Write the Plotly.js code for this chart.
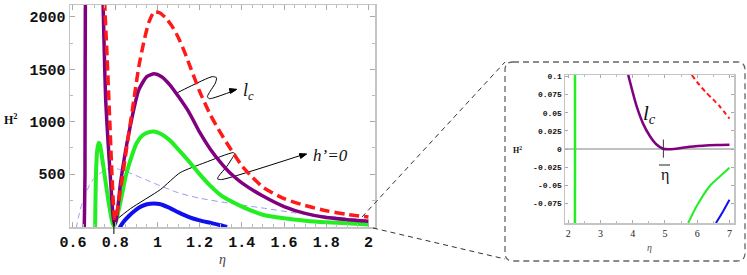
<!DOCTYPE html>
<html><head><meta charset="utf-8">
<script src="https://cdn.plot.ly/plotly-3.0.1.min.js"></script>
<style>html,body{margin:0;padding:0;background:#fff}</style>
</head><body><div id="chart" style="width:747px;height:275px"></div>
<script>
// ---------- main panel data (eta, H^2) ----------
const redEta   = [0.748,0.752,0.76,0.767,0.775,0.783,0.79,0.798,0.805,0.815,0.826,0.845,0.865,0.89,0.912,0.94,0.96,0.985,1.01,1.04,1.07,1.1,1.13,1.16,1.2,1.25,1.3,1.35,1.4,1.45,1.5,1.6,1.7,1.8,1.9,2.0];
const redH2    = [2300,2050,1700,1370,980,580,280,60,90,220,360,620,894,1230,1526,1800,1950,2050,2040,1990,1910,1800,1660,1500,1290,1070,890,730,580,470,375,265,200,150,115,90];
const purpleEta= [0.645,0.652,0.657,0.659,0.70,0.741,0.748,0.755,0.765,0.779,0.79,0.796,0.805,0.826,0.865,0.912,0.95,0.985,1.02,1.06,1.1,1.15,1.2,1.25,1.3,1.35,1.4,1.5,1.6,1.7,1.8,1.9,2.0];
const purpleH2 = [-800,-200,500,2300,8000,2300,1700,1209,850,417,100,20,60,424,892,1304,1430,1457,1430,1350,1240,1090,900,740,610,500,416,290,190,125,85,65,50];
const greenEta = [0.703,0.705,0.707,0.71,0.715,0.722,0.728,0.735,0.745,0.755,0.77,0.785,0.793,0.80,0.81,0.83,0.85,0.875,0.90,0.93,0.96,0.985,1.02,1.06,1.1,1.15,1.2,1.25,1.3,1.35,1.4,1.5,1.6,1.7,1.8,1.9,2.0];
const greenH2  = [-100,0,300,550,730,800,780,700,560,420,220,50,5,25,100,280,480,650,790,870,900,907,880,820,733,620,500,390,300,240,190,112,78,55,40,30,19];
const blueEta  = [0.815,0.825,0.84,0.865,0.89,0.912,0.94,0.965,0.985,1.01,1.05,1.1,1.15,1.2,1.25,1.3,1.33];
const blueH2   = [-50,0,45,100,145,178,205,216,219,215,185,135,90,58,35,12,-5];
const lavEta   = [0.615,0.625,0.64,0.655,0.68,0.70,0.73,0.76,0.787,0.82,0.87,0.943,1.0,1.1,1.2,1.34,1.5,1.65,1.8,2.0];
const lavH2    = [-20,80,200,290,400,460,510,545,559,545,510,448,400,321,270,222,176,130,100,60];
// annotation pointers (eta, H^2)
const lcPtrEta = [1.094,1.26,1.28,1.275,1.25,1.237,1.245,1.262,1.37];
const lcPtrH2  = [1276,1430,1420,1370,1290,1240,1220,1225,1300];
const hpPtrEta = [0.7835,0.873,1.014,1.108,1.226,1.358,1.367,1.356,1.329,1.29,1.285,1.304,1.70];
const hpPtrH2  = [29,171,352,514,610,705,695,657,574,479,454,448,692];
const xTickVals = [0.6,0.8,1,1.2,1.4,1.6,1.8,2];
const xTickText = ['0.6','0.8','1','1.2','1.4','1.6','1.8','2'];
const yTickVals = [500,1000,1500,2000];
const yTickText = ['500','1000','1500','2000'];

// ---------- inset data ----------
const inGreenVEta = [2.208,2.212];
const inGreenVH2  = [-0.2,0.2];
const inPurpleEta = [3.86,4.0,4.12,4.32,4.53,4.73,4.94,5.1,5.35,5.66,6.17,6.6,7.0];
const inPurpleH2  = [0.102,0.078,0.059,0.035,0.018,0.0065,0.0003,-0.0005,0.0005,0.0025,0.0045,0.0055,0.006];
const inRedEta    = [5.83,6.0,6.29,6.5,6.7,7.0];
const inRedH2     = [0.102,0.092,0.077,0.068,0.0586,0.042];
const inGreenEta  = [5.72,5.98,6.39,6.7,7.0];
const inGreenH2   = [-0.102,-0.079,-0.051,-0.038,-0.026];
const inBlueEta   = [6.58,6.8,7.0];
const inBlueH2    = [-0.102,-0.086,-0.070];
const inXTickVals = [2,3,4,5,6,7];
const inYTickVals = [0.1,0.075,0.05,0.025,0,-0.025,-0.05,-0.075];
const inYTickText = ['0.1','0.075','0.05','0.025','0','-0.025','-0.05','-0.075'];
const etaBar = 4.95;

// ---------- layout helpers ----------
const W = 747, H = 275;
const px = x => x / W, py = y => 1 - y / H;
const P = (x, y) => `${px(x)},${py(y)}`;

const RED='#ff1a1a', PURPLE='#800080', GREEN='#22ee22', BLUE='#1010ee', LAV='#9a9aee';

function tr(x, y, color, width, dash, xa, ya, shape) {
  return {x, y, type:'scatter', mode:'lines', hoverinfo:'skip',
    line:{color, width, dash: dash || 'solid', shape: shape || 'spline', smoothing: 0.6},
    xaxis: xa || 'x', yaxis: ya || 'y'};
}

const traces = [
  tr(lavEta, lavH2, LAV, 1, '6px,4px'),
  tr(lcPtrEta, lcPtrH2, '#000', 1, 'solid', 'x', 'y', 'spline'),
  tr(hpPtrEta, hpPtrH2, '#000', 1, 'solid', 'x', 'y', 'spline'),
  tr(blueEta, blueH2, BLUE, 4),
  tr(greenEta, greenH2, GREEN, 4),
  tr(purpleEta, purpleH2, PURPLE, 3.5),
  tr(redEta, redH2, RED, 3.5, '10px,5px'),
  tr(inGreenVEta, inGreenVH2, GREEN, 2.5, 'solid', 'x2', 'y2', 'linear'),
  tr(inPurpleEta, inPurpleH2, PURPLE, 2.5, 'solid', 'x2', 'y2'),
  tr(inRedEta, inRedH2, RED, 2, '5px,3px', 'x2', 'y2'),
  tr(inGreenEta, inGreenH2, GREEN, 2, 'solid', 'x2', 'y2'),
  tr(inBlueEta, inBlueH2, BLUE, 2, 'solid', 'x2', 'y2'),
];

const monoBold = {family:'Liberation Mono', size:15, color:'#111', weight:'bold'};
const serifIt = (s, c) => ({family:'Liberation Serif', size:s, color:c || '#111', style:'italic'});

const frame = {showline:true, linecolor:'#c4c4c4', linewidth:1.5, mirror:'ticks',
  ticks:'inside', ticklen:5, tickcolor:'#aaa', tickwidth:1, showgrid:false, zeroline:false,
  fixedrange:true};

// rounded dashed box of the inset
const bx0=505, bx1=745, by0=62, by1=261, r=8;
const boxPath = `M ${P(bx0+r,by0)} L ${P(bx1-r,by0)} Q ${P(bx1,by0)} ${P(bx1,by0+r)} L ${P(bx1,by1-r)} Q ${P(bx1,by1)} ${P(bx1-r,by1)} L ${P(bx0+r,by1)} Q ${P(bx0,by1)} ${P(bx0,by1-r)} L ${P(bx0,by0+r)} Q ${P(bx0,by0)} ${P(bx0+r,by0)} Z`;
// arrowheads of the two pointers (tip, then two base corners, in pixels)
const head1 = `M ${P(236.7,89.3)} L ${P(230.5,93.4)} L ${P(229.3,88.6)} Z`;
const head2 = `M ${P(306.7,154)} L ${P(300.7,158.4)} L ${P(299.3,153.6)} Z`;

const layout = {
  width: W, height: H, margin:{l:0,r:0,t:0,b:0}, showlegend:false,
  paper_bgcolor:'#fff', plot_bgcolor:'#fff',
  xaxis: Object.assign({}, frame, {domain:[px(70), px(375)], range:[0.586, 2.031],
    tickmode:'array', tickvals:xTickVals, ticktext:xTickText, tickfont:monoBold,
    title:{text:'η', font:serifIt(14, '#444'), standoff:3},
    minor:{ticks:'inside', ticklen:3, tickcolor:'#bbb', dtick:0.05, tick0:0.6}}),
  yaxis: Object.assign({}, frame, {domain:[py(227), py(5)], range:[-5, 2114],
    tickmode:'array', tickvals:yTickVals, ticktext:yTickText, tickfont:monoBold,
    minor:{ticks:'inside', ticklen:3, tickcolor:'#bbb', dtick:250, tick0:0}}),
  xaxis2: Object.assign({}, frame, {domain:[px(565), px(734)], range:[1.9, 7.14], anchor:'y2',
    tickmode:'array', tickvals:inXTickVals, ticklen:3,
    tickfont:{family:'Liberation Serif', size:10, color:'#222'},
    title:{text:'η', font:serifIt(10, '#555'), standoff:6},
    minor:{ticks:'inside', ticklen:2, tickcolor:'#bbb', dtick:0.5, tick0:2}}),
  yaxis2: Object.assign({}, frame, {domain:[py(223), py(75)], range:[-0.102, 0.102], anchor:'x2',
    tickmode:'array', tickvals:inYTickVals, ticktext:inYTickText, ticklen:3,
    tickfont:{family:'Liberation Mono', size:8, color:'#111', weight:'bold'},
    zeroline:true, zerolinecolor:'#c0c0c0', zerolinewidth:2}),
  shapes: [
    {type:'path', xref:'paper', yref:'paper', path:boxPath, line:{color:'#666', width:1.3, dash:'6px,4px'}},
    {type:'line', xref:'paper', yref:'paper', x0:px(362), y0:py(217), x1:px(505), y1:py(62), line:{color:'#333', width:1, dash:'5px,4px'}},
    {type:'line', xref:'paper', yref:'paper', x0:px(373), y0:py(228), x1:px(505), y1:py(259), line:{color:'#333', width:1, dash:'5px,4px'}},
    {type:'line', xref:'x', yref:'paper', x0:0.794, x1:0.794, y0:py(234), y1:py(220), line:{color:'#000', width:1}},
    {type:'line', xref:'x2', yref:'y2', x0:etaBar, x1:etaBar, y0:-0.012, y1:0.013, line:{color:'#333', width:1}},
    {type:'line', xref:'paper', yref:'paper', x0:px(659), x1:px(670), y0:py(165), y1:py(165), line:{color:'#222', width:1}},
    {type:'path', xref:'paper', yref:'paper', path:head1, fillcolor:'#000', line:{color:'#000', width:1}},
    {type:'path', xref:'paper', yref:'paper', path:head2, fillcolor:'#000', line:{color:'#000', width:1}},
  ],
  annotations: [
    {xref:'paper', yref:'paper', x:px(241), y:py(91), xanchor:'left', yanchor:'middle', showarrow:false,
      text:'l<sub>c</sub>', font:serifIt(18)},
    {xref:'paper', yref:'paper', x:px(311), y:py(155), xanchor:'left', yanchor:'middle', showarrow:false,
      text:'h’=0', font:serifIt(17)},
    {xref:'paper', yref:'paper', x:px(11), y:py(119), xanchor:'center', yanchor:'middle', showarrow:false,
      text:'H<sup>2</sup>', font:{family:'Liberation Serif', size:12, color:'#111', weight:'bold'}},
    {xref:'paper', yref:'paper', x:px(649), y:py(114), xanchor:'center', yanchor:'middle', showarrow:false,
      text:'l<sub>c</sub>', font:serifIt(21)},
    {xref:'paper', yref:'paper', x:px(665), y:py(175), xanchor:'center', yanchor:'middle', showarrow:false,
      text:'η', font:{family:'Liberation Serif', size:16, color:'#111'}},
    {xref:'paper', yref:'paper', x:px(517), y:py(150), xanchor:'center', yanchor:'middle', showarrow:false,
      text:'H<sup>2</sup>', font:{family:'Liberation Serif', size:8, color:'#111', weight:'bold'}},
  ]
};

Plotly.newPlot('chart', traces, layout, {staticPlot:true, displayModeBar:false});
</script></body></html>
